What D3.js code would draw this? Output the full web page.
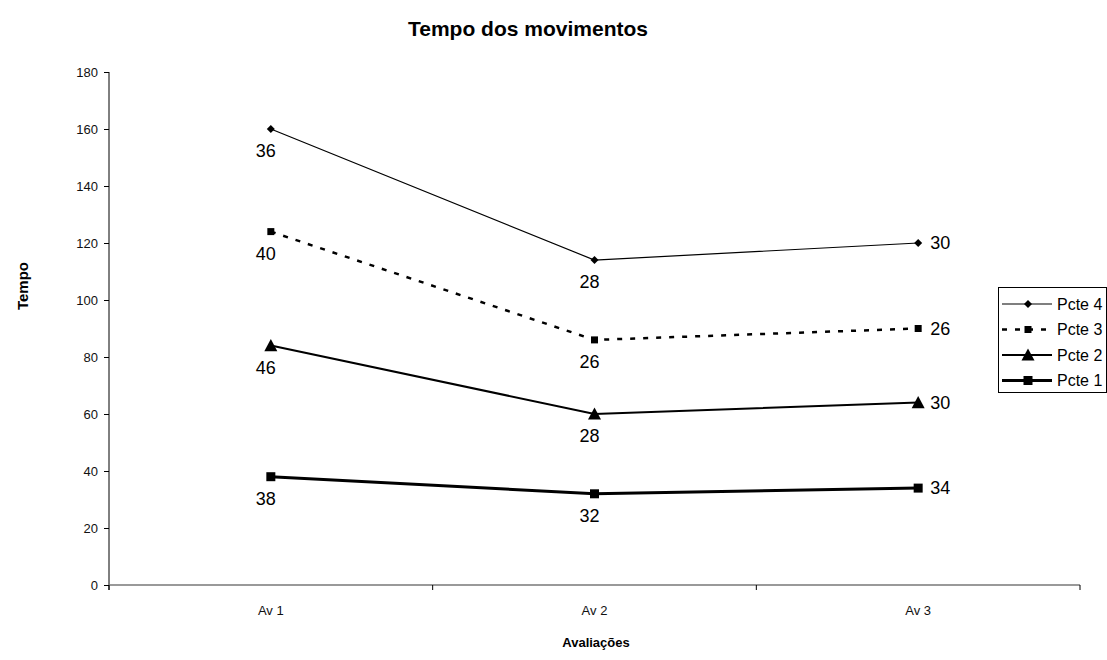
<!DOCTYPE html>
<html><head><meta charset="utf-8">
<script src="https://cdn.jsdelivr.net/npm/d3@7"></script>
<style>body{margin:0;background:#fff}svg{display:block;font-family:"Liberation Sans",Arial,sans-serif}</style>
</head><body><svg id="c" width="1107" height="660"></svg>
<script>
const categories = ["Av 1", "Av 2", "Av 3"];
const seriesNames = ["Pcte 1", "Pcte 2", "Pcte 3", "Pcte 4"];
const pcte1 = [38, 32, 34];
const pcte2 = [46, 28, 30];
const pcte3 = [40, 26, 26];
const pcte4 = [36, 28, 30];
const yTicks = [0, 20, 40, 60, 80, 100, 120, 140, 160, 180];

const seriesValues = [pcte1, pcte2, pcte3, pcte4];
const rows = categories.map((c, i) => {
  const r = {cat: c};
  seriesNames.forEach((s, k) => r[s] = seriesValues[k][i]);
  return r;
});
const stacked = d3.stack().keys(seriesNames)(rows);

const svg = d3.select("#c");
const L = 109, R = 1080, T = 72, B = 585;
const x = d3.scaleBand().domain(categories).range([L, R]);
const y = d3.scaleLinear().domain([0, 180]).range([B, T]);
const cx = c => x(c) + x.bandwidth() / 2;

const styles = {
  "Pcte 4": {w: 1.2, dash: null, marker: "diamond", ms: 4},
  "Pcte 3": {w: 2.5, dash: "5,8", marker: "square", ms: 3.5},
  "Pcte 2": {w: 2, dash: null, marker: "triangle", ms: 6.5},
  "Pcte 1": {w: 3, dash: null, marker: "square", ms: 4.5}
};
function markerPath(type, s) {
  if (type === "diamond") return `M0,${-s}L${s},0L0,${s}L${-s},0Z`;
  if (type === "square") return `M${-s},${-s}H${s}V${s}H${-s}Z`;
  return `M0,${-s}L${s},${s * 0.85}H${-s}Z`;
}

// title
svg.append("text").attr("x", 528).attr("y", 36).attr("text-anchor", "middle")
  .attr("font-size", 21).attr("font-weight", "bold").text("Tempo dos movimentos");

// y axis
const yAxis = svg.append("g").attr("transform", `translate(${L},0)`)
  .call(d3.axisLeft(y).tickValues(yTicks).tickSize(5).tickPadding(6));
yAxis.select(".domain").attr("d", `M0,${T}V${B + 5}`).attr("stroke", "#000");
yAxis.selectAll("text").attr("font-size", 13).attr("font-family", "Liberation Sans, Arial, sans-serif").attr("fill", "#111");

// x axis
const xg = svg.append("g").attr("transform", `translate(0,${B})`);
xg.append("line").attr("x1", L).attr("x2", R).attr("stroke", "#777").attr("stroke-width", 1.3);
const bounds = categories.map(c => x(c) + x.bandwidth()).concat([L]);
xg.selectAll("line.t").data(bounds).join("line").attr("class", "t")
  .attr("x1", d => d).attr("x2", d => d).attr("y1", 0).attr("y2", 5).attr("stroke", "#000");
xg.selectAll("text").data(categories).join("text")
  .attr("x", d => cx(d)).attr("y", 30).attr("text-anchor", "middle")
  .attr("font-size", 13).attr("fill", "#111").text(d => d);

// axis titles
svg.append("text").attr("transform", "translate(28,286) rotate(-90)").attr("text-anchor", "middle")
  .attr("font-size", 15).attr("font-weight", "bold").text("Tempo");
svg.append("text").attr("x", 596).attr("y", 647).attr("text-anchor", "middle")
  .attr("font-size", 13).attr("font-weight", "bold").text("Avaliações");

// lines
const line = d3.line().x(d => cx(d.data.cat)).y(d => y(d[1]));
stacked.forEach(s => {
  const st = styles[s.key];
  svg.append("path").datum(s).attr("d", line).attr("fill", "none").attr("stroke", "#000")
    .attr("stroke-width", st.w).attr("stroke-dasharray", st.dash);
  svg.selectAll(null).data(s).join("path")
    .attr("transform", d => `translate(${cx(d.data.cat)},${y(d[1])})`)
    .attr("d", markerPath(st.marker, st.ms)).attr("fill", "#000");
  svg.selectAll(null).data(s).join("text")
    .attr("x", (d, i) => i === 2 ? cx(d.data.cat) + 12 : cx(d.data.cat) - 5)
    .attr("y", (d, i) => i === 2 ? y(d[1]) + 6 : y(d[1]) + 28)
    .attr("text-anchor", (d, i) => i === 2 ? "start" : "middle")
    .attr("font-size", 18).attr("fill", "#000")
    .text(d => d[1] - d[0]);
});

// legend
const lg = svg.append("g");
lg.append("rect").attr("x", 998.5).attr("y", 287.5).attr("width", 108).attr("height", 105)
  .attr("fill", "#fff").attr("stroke", "#000");
const order = ["Pcte 4", "Pcte 3", "Pcte 2", "Pcte 1"];
order.forEach((k, i) => {
  const st = styles[k];
  const yy = 304 + i * 25.5;
  lg.append("line").attr("x1", 1002).attr("x2", 1052).attr("y1", yy).attr("y2", yy)
    .attr("stroke", "#000").attr("stroke-width", st.w).attr("stroke-dasharray", st.dash);
  lg.append("path").attr("transform", `translate(1028,${yy})`)
    .attr("d", markerPath(st.marker, st.ms)).attr("fill", "#000");
  lg.append("text").attr("x", 1057).attr("y", yy + 5.5).attr("font-size", 16).text(k);
});
</script></body></html>
